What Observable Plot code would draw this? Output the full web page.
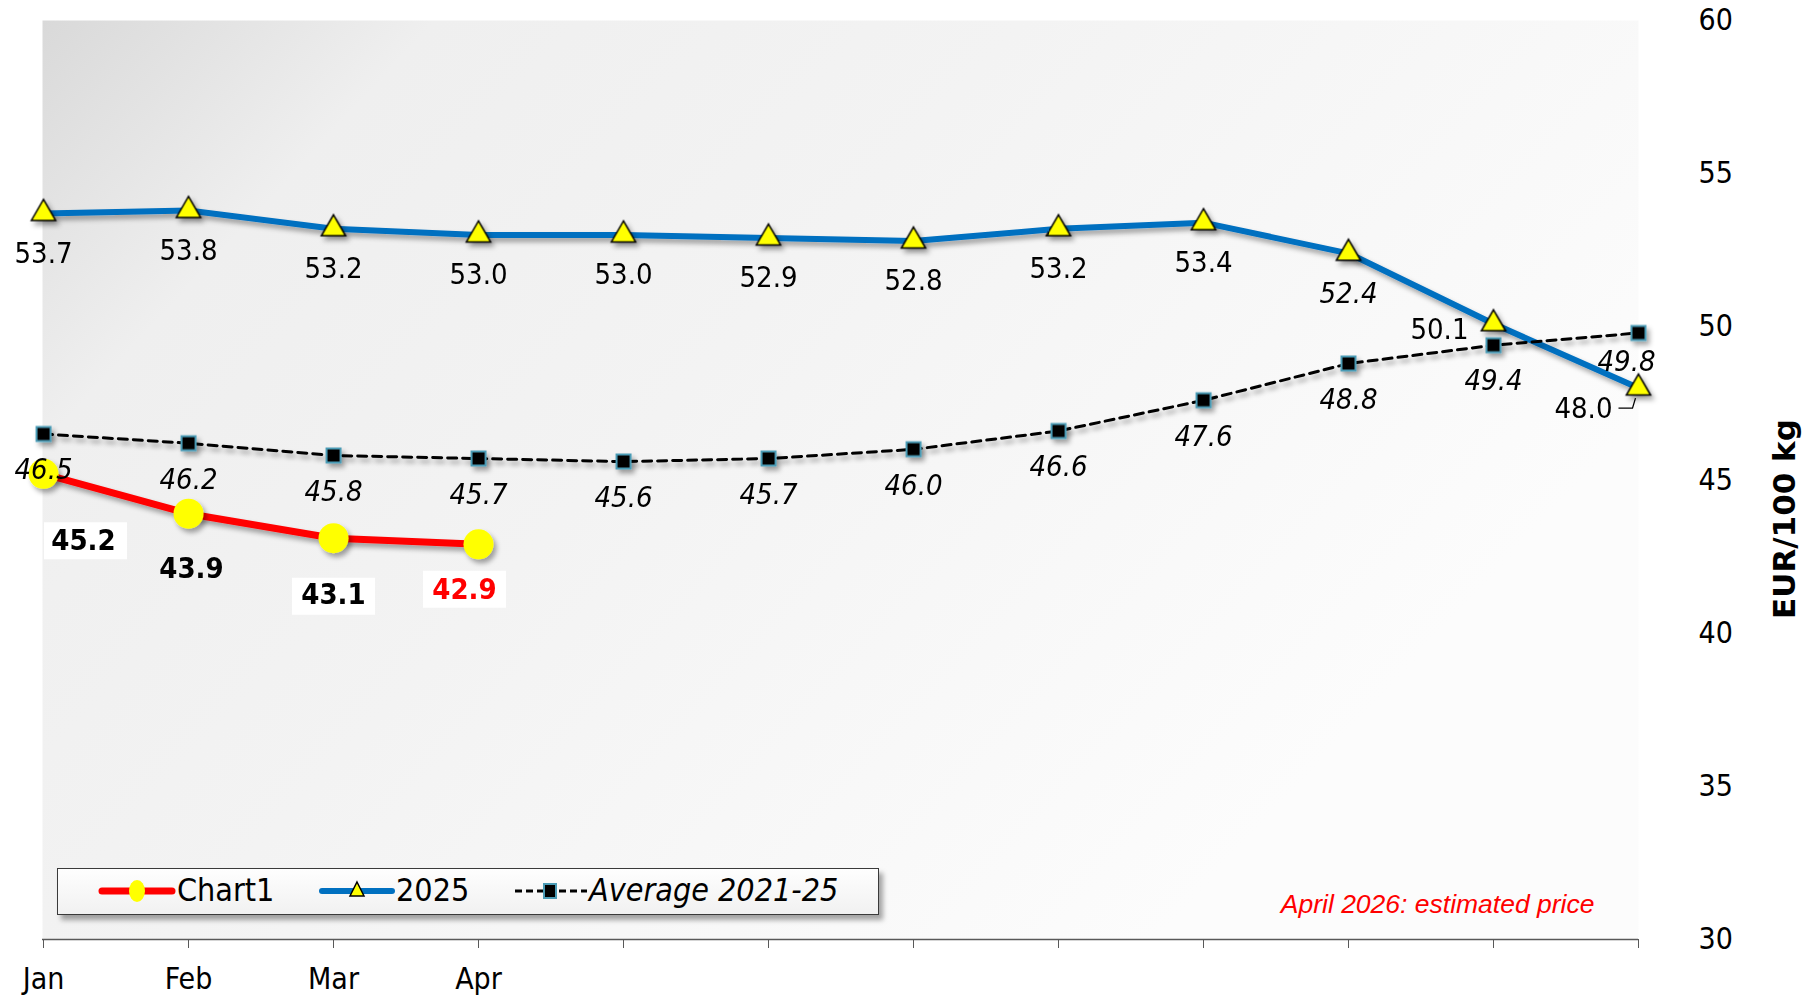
<!DOCTYPE html>
<html><head><meta charset="utf-8">
<script src="https://cdn.jsdelivr.net/npm/d3@7"></script>
<script src="https://cdn.jsdelivr.net/npm/@observablehq/plot@0.6"></script>
<style>
html,body{margin:0;padding:0;background:#fff;}
#wrap{position:relative;width:1816px;height:996px;}
#wrap svg{display:block;}
.legend{position:absolute;left:57px;top:868px;width:822px;height:47px;box-sizing:border-box;border:1.5px solid #3a3a3a;background:linear-gradient(#fefefe,#f1f1f1);box-shadow:4px 5px 5px rgba(0,0,0,0.35);font-family:"DejaVu Sans Condensed","DejaVu Sans",sans-serif;font-stretch:condensed;font-size:32px;color:#000;}
.legend .sw{position:absolute;top:7px;}
.legend .tx{position:absolute;top:2px;line-height:38px;white-space:nowrap;}
</style></head>
<body><div id="wrap"></div>
<script>
const months = ["Jan","Feb","Mar","Apr","May","Jun","Jul","Aug","Sep","Oct","Nov","Dec"];
const xTickLabels = ["Jan","Feb","Mar","Apr"];
const chart1Values = [45.2, 43.9, 43.1, 42.9];
const values2025 = [53.7, 53.8, 53.2, 53.0, 53.0, 52.9, 52.8, 53.2, 53.4, 52.4, 50.1, 48.0];
const average2125 = [46.5, 46.2, 45.8, 45.7, 45.6, 45.7, 46.0, 46.6, 47.6, 48.8, 49.4, 49.8];
const seriesNames = ["Chart1", "2025", "Average 2021-25"];
const yTicks = [30, 35, 40, 45, 50, 55, 60];
const yTitle = "EUR/100 kg";
const noteText = "April 2026: estimated price";

const FONT = "'DejaVu Sans Condensed','DejaVu Sans',sans-serif";
const toRows = (vals) => vals.map((v, i) => ({m: months[i], v, i}));
const d1 = toRows(chart1Values);
const d25 = toRows(values2025);
const dav = toRows(average2125);
const pick = (rows, idx) => rows.filter(d => idx.includes(d.i));
const fmt = d => d.v.toFixed(1);
const boxSymbol = {draw(ctx) { ctx.rect(-41.5, -18.5, 83, 37); }};
const leaderSymbol = {draw(ctx) { ctx.moveTo(-20, 20); ctx.lineTo(-6, 20); ctx.lineTo(-3, 10); }};
const SH = "shadowed";

const lab = (rows, idx, o) => Plot.text(pick(rows, idx), {x: "m", y: "v", text: fmt, fontSize: 29, fill: "#000", ...o});

const plot = Plot.plot({
  width: 1816, height: 996,
  marginLeft: 42, marginRight: 178, marginTop: 20, marginBottom: 57,
  style: {fontFamily: FONT, fontStretch: "condensed", fontSize: "30px", color: "#000", background: "transparent", overflow: "visible"},
  x: {type: "point", domain: months, padding: 0, label: null},
  y: {domain: [30, 60], label: null},
  marks: [
    Plot.frame({fill: "url(#bgGrad)", stroke: null}),
    Plot.axisY({anchor: "right", ticks: yTicks, tickSize: 0, tickPadding: 60, fontSize: 30, label: null}),
    Plot.axisX({ticks: months, tickSize: 9, tickPadding: 19, fontSize: 30, stroke: "#595959", label: null,
      tickFormat: d => xTickLabels.includes(d) ? d : ""}),
    Plot.ruleY([30], {stroke: "#595959", strokeWidth: 1.5}),
    // leader line for the last 2025 label
    Plot.dot(pick(d25, [11]), {x: "m", y: "v", symbol: leaderSymbol, fill: "none", stroke: "#000", strokeWidth: 1.3}),
    // 2025
    Plot.line(d25, {x: "m", y: "v", stroke: "#0070C0", strokeWidth: 6, ariaDescription: SH}),
    Plot.dot(d25, {x: "m", y: "v", symbol: "triangle", r: 9, fill: "#FFFF00", stroke: "#000", strokeWidth: 1.5, ariaDescription: SH}),
    // Average
    Plot.line(dav, {x: "m", y: "v", stroke: "#000", strokeWidth: 3, strokeDasharray: "9,6", ariaDescription: SH}),
    Plot.dot(dav, {x: "m", y: "v", symbol: "square", r: 7.9, fill: "#000", stroke: "#4A9BB5", strokeWidth: 2, ariaDescription: SH}),
    // Chart1
    Plot.line(d1, {x: "m", y: "v", stroke: "#FF0000", strokeWidth: 7, ariaDescription: SH}),
    Plot.dot(d1, {x: "m", y: "v", r: 15, fill: "#FFFF00", stroke: null, ariaDescription: SH}),
    // 2025 labels
    lab(d25, [0,1,2,3,4,5,6,7,8], {dy: 40}),
    lab(d25, [9], {dy: 40, fontStyle: "italic"}),
    lab(d25, [10], {dx: -25, dy: 6, textAnchor: "end"}),
    lab(d25, [11], {dx: -26, dy: 21, textAnchor: "end"}),
    // Average labels
    lab(dav, [0,1,2,3,4,5,6,7,8,9,10], {dy: 36, fontStyle: "italic"}),
    lab(dav, [11], {dx: -12, dy: 29, fontStyle: "italic"}),
    // Chart1 label boxes & labels
    Plot.dot(pick(d1, [0]), {x: "m", y: "v", symbol: boxSymbol, fill: "#fff", stroke: null, dx: 42, dy: 67}),
    Plot.dot(pick(d1, [2]), {x: "m", y: "v", symbol: boxSymbol, fill: "#fff", stroke: null, dx: 0, dy: 58}),
    Plot.dot(pick(d1, [3]), {x: "m", y: "v", symbol: boxSymbol, fill: "#fff", stroke: null, dx: -14, dy: 45}),
    lab(d1, [0], {dx: 40, dy: 67, fontWeight: "bold"}),
    lab(d1, [1], {dx: 3, dy: 55, fontWeight: "bold"}),
    lab(d1, [2], {dx: 0, dy: 57, fontWeight: "bold"}),
    lab(d1, [3], {dx: -14, dy: 45, fontWeight: "bold", fill: "#FF0000"}),
    // note & y title
    Plot.text([noteText], {frameAnchor: "bottom-right", textAnchor: "end", lineAnchor: "middle", dx: -44, dy: -35, fill: "#FF0000",
      fontStyle: "italic", fontFamily: "'Liberation Sans',Arial,sans-serif", fontSize: 26.5, ariaDescription: "normalwidth"}),
    Plot.text([yTitle], {frameAnchor: "right", textAnchor: "middle", lineAnchor: "middle", rotate: -90, dx: 147, dy: 39, fontWeight: "bold",
      fontFamily: "'DejaVu Sans',sans-serif", fontSize: 31, fill: "#000", ariaDescription: "normalwidth"})
  ]
});

const svg = d3.select(plot);
const defs = svg.insert("defs", ":first-child");
const g = defs.append("linearGradient").attr("id", "bgGrad").attr("gradientUnits", "userSpaceOnUse")
  .attr("x1", 42).attr("y1", 20).attr("x2", 1100).attr("y2", 1000);
[[0, "#d9d9d9"], [0.2, "#efefef"], [0.5, "#f3f3f3"], [1, "#fcfcfc"]].forEach(([o, c]) =>
  g.append("stop").attr("offset", o).attr("stop-color", c));
const f = defs.append("filter").attr("id", "shadow").attr("filterUnits", "userSpaceOnUse")
  .attr("x", 0).attr("y", 0).attr("width", 1816).attr("height", 996);
f.append("feDropShadow").attr("dx", 3).attr("dy", 4).attr("stdDeviation", 2.5).attr("flood-color", "#000").attr("flood-opacity", 0.35);
svg.selectAll("g[aria-description=shadowed]").attr("filter", "url(#shadow)");
svg.selectAll("g[aria-description=normalwidth]").style("font-stretch", "normal");

const wrap = document.getElementById("wrap");
wrap.appendChild(plot);

const legend = document.createElement("div");
legend.className = "legend";
legend.innerHTML = `
  <svg class="sw" style="left:40px" width="78" height="30"><line x1="4" y1="15" x2="74" y2="15" stroke="#FF0000" stroke-width="7" stroke-linecap="round"/><ellipse cx="39" cy="15" rx="8" ry="11" fill="#FFFF00"/></svg>
  <div class="tx" style="left:119px">${seriesNames[0]}</div>
  <svg class="sw" style="left:260px" width="78" height="30"><line x1="4" y1="15" x2="74" y2="15" stroke="#0070C0" stroke-width="6" stroke-linecap="round"/><path d="M39,6 L46,20 L32,20 Z" fill="#FFFF00" stroke="#000" stroke-width="1.5"/></svg>
  <div class="tx" style="left:338px">${seriesNames[1]}</div>
  <svg class="sw" style="left:455px" width="76" height="30"><line x1="2" y1="15" x2="74" y2="15" stroke="#000" stroke-width="3" stroke-dasharray="7,4"/><rect x="31" y="8" width="12" height="14" fill="#000" stroke="#4A9BB5" stroke-width="2"/></svg>
  <div class="tx" style="left:531px;font-style:italic">${seriesNames[2]}</div>`;
wrap.appendChild(legend);
</script>
</body></html>
